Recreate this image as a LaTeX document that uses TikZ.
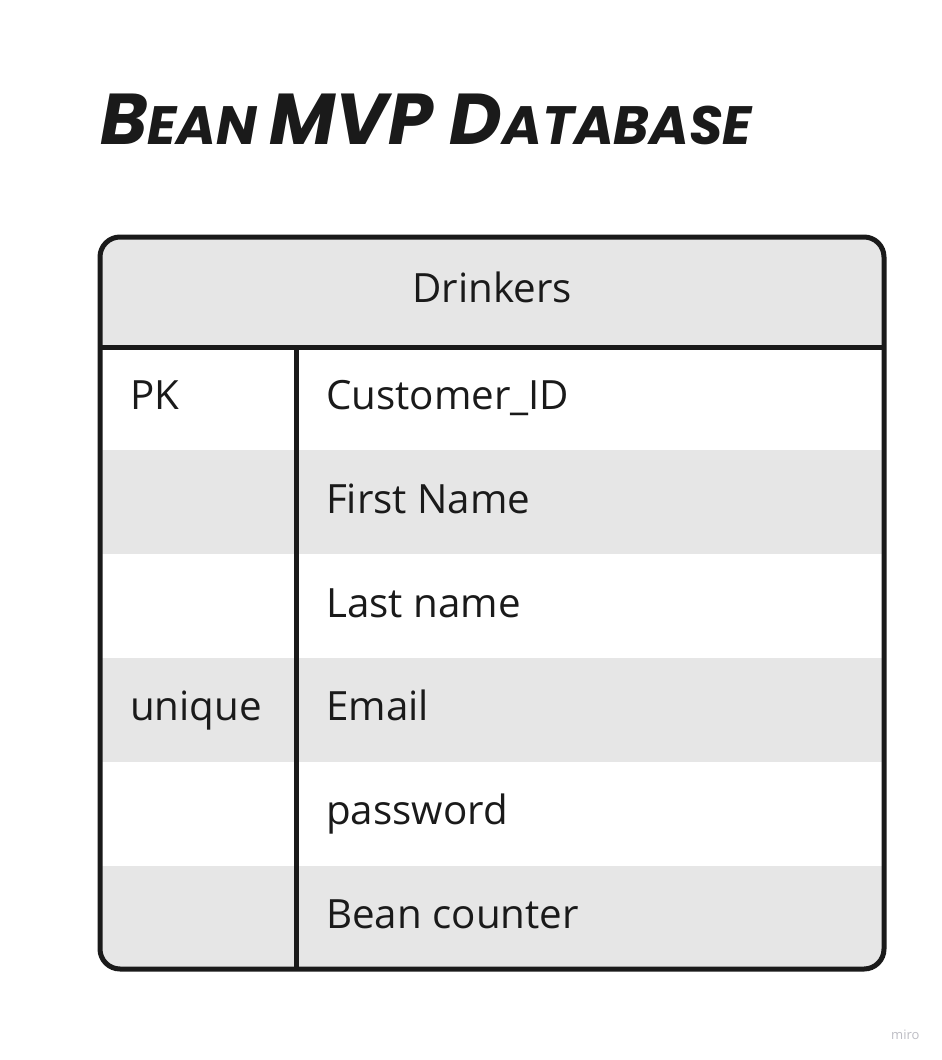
\documentclass[tikz,border=0pt]{standalone}
\usepackage{fontspec}
\setmainfont{Open Sans}
\newfontfamily\titlefont{Poppins}
\definecolor{rowgray}{HTML}{E6E6E6}
\definecolor{ink}{HTML}{1A1A1A}
\definecolor{mirogray}{HTML}{BDBDC4}
\tikzset{
  cell/.style={anchor=base west, inner sep=0pt, font=\fontsize{40.3}{41}\selectfont, text=ink},
  frame/.style={draw=ink, line width=5pt, rounded corners=20pt},
  divider/.style={draw=ink, line width=5pt},
}
\begin{document}
\begin{tikzpicture}[x=1pt,y=-1pt]
\useasboundingbox[fill=white] (0,0) rectangle (942,1060);
% title
\node[anchor=base west, inner sep=0pt, text=ink] (title) at (100,144)
  {\titlefont\bfseries\itshape\fontsize{72}{72}\selectfont B\fontsize{54}{54}\selectfont EAN \fontsize{72}{72}\selectfont MVP D\fontsize{54}{54}\selectfont ATABASE};
% fills
\begin{scope}
\clip[rounded corners=20pt] (100,237) rectangle (884,969);
\fill[rowgray] (100,237) rectangle (884,347);
\fill[rowgray] (100,450) rectangle (884,554);
\fill[rowgray] (100,658) rectangle (884,762);
\fill[rowgray] (100,866) rectangle (884,969);
\end{scope}
% lines
\path[divider] (100,347) -- (884,347);
\path[divider] (296,347) -- (296,969);
\path[frame] (100,237) rectangle (884,969);
% header
\node[cell, anchor=base] (hdr) at (492,302) {Drinkers};
% rows
\node[cell] (k1) at (130,409) {PK};
\node[cell] (f1) at (326,409) {Customer\_ID};
\node[cell] (f2) at (326,513) {First Name};
\node[cell] (f3) at (326,617) {Last name};
\node[cell] (k4) at (130,720) {unique};
\node[cell] (f4) at (326,720) {Email};
\node[cell] (f5) at (326,824) {password};
\node[cell] (f6) at (326,928) {Bean counter};
% watermark
\node[anchor=base west, inner sep=0pt, text=mirogray, font=\fontsize{13}{13}\selectfont] (miro) at (891,1039) {miro};
\end{tikzpicture}
\end{document}
